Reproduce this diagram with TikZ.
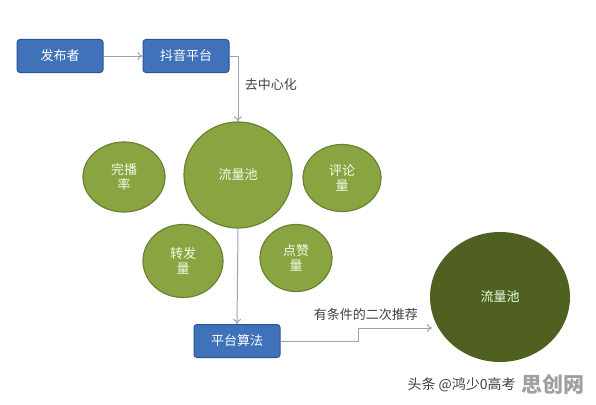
\documentclass[tikz,border=0pt]{standalone}
\usepackage{fontspec}
\setmainfont{Noto Sans CJK SC}
\usepackage{xcolor}
\usetikzlibrary{arrows.meta,shapes.geometric}
\definecolor{boxblue}{HTML}{3F72B8}
\definecolor{boxline}{HTML}{2B5591}
\definecolor{poolgreen}{HTML}{8BA442}
\definecolor{poolline}{HTML}{6A8231}
\definecolor{darkpool}{HTML}{4F6021}
\definecolor{linkgray}{HTML}{9AA5B5}
\definecolor{labelgray}{HTML}{404040}
\begin{document}
\begin{tikzpicture}[x=1pt,y=-1pt,
   every node/.style={font=\fontsize{13}{15}\selectfont},
   boxnode/.style={draw=boxline,fill=boxblue,text=white,rounded corners=3pt,line width=1pt,minimum width=86pt,minimum height=33pt},
   poolnode/.style={ellipse,draw=poolline,fill=poolgreen,text=white!92!green,line width=1.2pt,align=center,inner sep=0pt},
   link/.style={draw=linkgray,line width=1pt,-{To[length=5pt,width=8pt]}},
   tag/.style={text=labelgray}]
   \useasboundingbox (0,0) rectangle (596,404);
   \node[boxnode] (fabu) at (60,56) {发布者};
   \node[boxnode] (douyin) at (186,56) {抖音平台};
   \node[poolnode,minimum width=108pt,minimum height=106pt] (pool) at (238,175) {流量池};
   \node[poolnode,minimum width=82pt,minimum height=70pt] (wanbo) at (124,177) {完播\\率};
   \node[poolnode,minimum width=78pt,minimum height=67pt] (pinglun) at (342,178) {评论\\量};
   \node[poolnode,minimum width=80pt,minimum height=73pt] (zhuanfa) at (183,261) {转发\\量};
   \node[poolnode,minimum width=72pt,minimum height=67pt] (dianzan) at (296,258) {点赞\\量};
   \node[boxnode] (suanfa) at (237,341) {平台算法};
   \node[ellipse,fill=darkpool,text=white!88!green,minimum width=140pt,minimum height=130pt] (pool2) at (500,297) {流量池};
   \coordinate (hit) at (432,328);
   \draw[link] (fabu) -- (douyin);
   \draw[link] (douyin.east) -| (pool.north) node[tag,pos=0.72,right=3pt] {去中心化};
   \draw[link] (pool.south) -- (suanfa.north);
   \draw[link] (suanfa.east) -- ++(78,0) |- (hit) node[tag,pos=0.55,above=4pt] {有条件的二次推荐};
   \node[text=labelgray,font=\fontsize{14}{16}\selectfont,anchor=west] (mark) at (404,385) {头条 @鸿少0高考};
   \node[text=gray!75,font=\fontsize{21}{23}\selectfont\bfseries,anchor=west] (site) at (518,384) {思创网};
\end{tikzpicture}
\end{document}
